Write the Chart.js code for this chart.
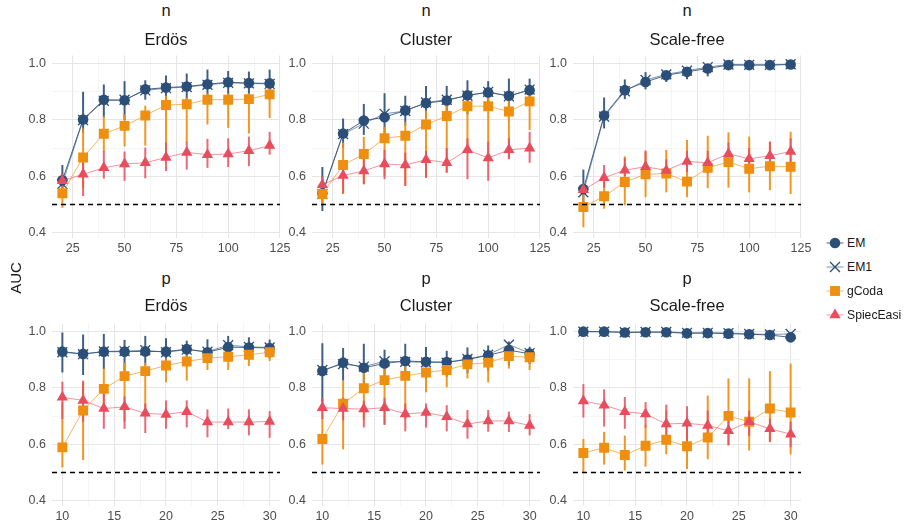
<!DOCTYPE html>
<html>
<head>
<meta charset="utf-8">
<script src="https://cdn.jsdelivr.net/npm/chart.js@4.4.1/dist/chart.umd.min.js"></script>
<style>
  body { margin: 0; background: #fff; font-family: "Liberation Sans", Arial, sans-serif; }
  #wrap { position: relative; width: 907px; height: 522px; overflow: hidden; background: #fff; }
  #wrap canvas.panel { position: absolute; }
  .lbl { position: absolute; transform: translate(-50%, -50%); white-space: nowrap; color: #1a1a1a; line-height: 1; font-size: 16.5px; }
  .ylab { position: absolute; transform: translate(-50%, -50%) rotate(-90deg); color: #1a1a1a; line-height: 1; font-size: 15px; }
  .key { position: absolute; left: 826px; height: 18px; display: flex; align-items: center; transform: translateY(-50%); }
  .key span { font-size: 12.2px; color: #1a1a1a; margin-left: 3px; }
</style>
</head>
<body>
<div id="wrap"></div>
<script>
// x values
const nSizes = [20, 30, 40, 50, 60, 70, 80, 90, 100, 110, 120];
const pSizes = [10, 12, 14, 16, 18, 20, 22, 24, 26, 28, 30];
const graphTypes = ['Erdös', 'Cluster', 'Scale-free'];
const seriesNames = ['EM', 'EM1', 'gCoda', 'SpiecEasi'];

// tick labels
const yTicks = [0.4, 0.6, 0.8, 1.0];
const yMinor = [0.5, 0.7, 0.9];
const nTicks = [25, 50, 75, 100, 125];
const nMinor = [37.5, 62.5, 87.5, 112.5];
const pTicks = [10, 15, 20, 25, 30];
const pMinor = [12.5, 17.5, 22.5, 27.5];
const baseline = 0.5;

// n / Erdös
const erdosN_EM = [0.586, 0.802, 0.872, 0.870, 0.909, 0.915, 0.919, 0.927, 0.934, 0.931, 0.930];
const erdosN_EM_lo = [0.555, 0.752, 0.810, 0.800, 0.872, 0.870, 0.872, 0.872, 0.880, 0.875, 0.872];
const erdosN_EM_hi = [0.640, 0.900, 0.926, 0.938, 0.941, 0.958, 0.965, 0.979, 0.974, 0.972, 0.979];
const erdosN_EM1 = [0.573, 0.800, 0.868, 0.872, 0.905, 0.913, 0.917, 0.925, 0.932, 0.930, 0.928];
const erdosN_gCoda = [0.540, 0.667, 0.751, 0.779, 0.816, 0.853, 0.856, 0.872, 0.872, 0.874, 0.891];
const erdosN_gCoda_lo = [0.488, 0.560, 0.688, 0.706, 0.709, 0.690, 0.720, 0.784, 0.772, 0.752, 0.807];
const erdosN_gCoda_hi = [0.580, 0.770, 0.814, 0.820, 0.851, 0.886, 0.880, 0.895, 0.895, 0.895, 0.913];
const erdosN_Spiec = [0.584, 0.607, 0.630, 0.644, 0.648, 0.667, 0.685, 0.677, 0.679, 0.691, 0.709];
const erdosN_Spiec_lo = [0.560, 0.530, 0.592, 0.584, 0.593, 0.619, 0.624, 0.630, 0.633, 0.636, 0.677];
const erdosN_Spiec_hi = [0.610, 0.665, 0.690, 0.688, 0.702, 0.720, 0.723, 0.733, 0.735, 0.741, 0.758];

// n / Cluster
const clusterN_EM = [0.540, 0.752, 0.798, 0.810, 0.834, 0.860, 0.869, 0.888, 0.898, 0.886, 0.906];
const clusterN_EM_lo = [0.477, 0.700, 0.747, 0.735, 0.780, 0.810, 0.820, 0.820, 0.851, 0.834, 0.869];
const clusterN_EM_hi = [0.633, 0.805, 0.857, 0.895, 0.886, 0.921, 0.921, 0.941, 0.938, 0.947, 0.947];
const clusterN_EM1 = [0.537, 0.750, 0.787, 0.822, 0.832, 0.862, 0.872, 0.886, 0.900, 0.884, 0.908];
const clusterN_gCoda = [0.537, 0.640, 0.679, 0.735, 0.744, 0.784, 0.814, 0.849, 0.849, 0.830, 0.866];
const clusterN_gCoda_lo = [0.500, 0.537, 0.572, 0.600, 0.566, 0.595, 0.613, 0.680, 0.680, 0.665, 0.764];
const clusterN_gCoda_hi = [0.570, 0.720, 0.740, 0.776, 0.793, 0.834, 0.860, 0.880, 0.890, 0.875, 0.905];
const clusterN_Spiec = [0.570, 0.603, 0.619, 0.644, 0.640, 0.659, 0.648, 0.694, 0.665, 0.694, 0.700];
const clusterN_Spiec_lo = [0.540, 0.540, 0.572, 0.590, 0.566, 0.595, 0.613, 0.590, 0.584, 0.660, 0.648];
const clusterN_Spiec_hi = [0.600, 0.653, 0.670, 0.694, 0.684, 0.690, 0.700, 0.735, 0.723, 0.735, 0.758];

// n / Scale-free
const scaleN_EM = [0.555, 0.816, 0.906, 0.935, 0.959, 0.971, 0.983, 0.995, 0.995, 0.995, 0.997];
const scaleN_EM_lo = [0.502, 0.770, 0.874, 0.909, 0.935, 0.945, 0.955, 0.985, 0.985, 0.985, 0.990];
const scaleN_EM_hi = [0.624, 0.880, 0.944, 0.970, 0.975, 0.985, 0.995, 1.000, 1.000, 1.000, 1.000];
const scaleN_EM1 = [0.543, 0.812, 0.902, 0.942, 0.962, 0.975, 0.988, 0.997, 0.996, 0.996, 0.998];
const scaleN_gCoda = [0.491, 0.529, 0.580, 0.607, 0.610, 0.581, 0.630, 0.651, 0.627, 0.636, 0.634];
const scaleN_gCoda_lo = [0.419, 0.485, 0.497, 0.526, 0.543, 0.526, 0.558, 0.560, 0.543, 0.551, 0.537];
const scaleN_gCoda_hi = [0.557, 0.580, 0.671, 0.688, 0.694, 0.729, 0.744, 0.756, 0.741, 0.723, 0.758];
const scaleN_Spiec = [0.552, 0.595, 0.622, 0.634, 0.621, 0.653, 0.648, 0.680, 0.662, 0.673, 0.688];
const scaleN_Spiec_lo = [0.540, 0.560, 0.600, 0.600, 0.605, 0.615, 0.610, 0.645, 0.635, 0.645, 0.650];
const scaleN_Spiec_hi = [0.570, 0.640, 0.665, 0.692, 0.660, 0.690, 0.690, 0.720, 0.700, 0.723, 0.735];

// p / Erdös
const erdosP_EM = [0.929, 0.921, 0.929, 0.929, 0.930, 0.929, 0.938, 0.927, 0.945, 0.944, 0.942];
const erdosP_EM_lo = [0.855, 0.846, 0.867, 0.860, 0.880, 0.890, 0.907, 0.895, 0.910, 0.910, 0.905];
const erdosP_EM_hi = [0.997, 0.990, 0.992, 0.971, 0.985, 0.977, 0.968, 0.973, 0.985, 0.980, 0.972];
const erdosP_EM1 = [0.927, 0.920, 0.930, 0.931, 0.934, 0.927, 0.936, 0.929, 0.952, 0.946, 0.944];
const erdosP_gCoda = [0.589, 0.720, 0.797, 0.842, 0.860, 0.880, 0.894, 0.906, 0.911, 0.918, 0.927];
const erdosP_gCoda_lo = [0.518, 0.544, 0.727, 0.680, 0.700, 0.820, 0.826, 0.864, 0.864, 0.878, 0.896];
const erdosP_gCoda_hi = [0.750, 0.820, 0.869, 0.890, 0.890, 0.905, 0.915, 0.925, 0.930, 0.935, 0.950];
const erdosP_Spiec = [0.767, 0.756, 0.727, 0.733, 0.710, 0.706, 0.716, 0.679, 0.679, 0.679, 0.681];
const erdosP_Spiec_lo = [0.690, 0.680, 0.655, 0.655, 0.640, 0.655, 0.660, 0.625, 0.654, 0.632, 0.623];
const erdosP_Spiec_hi = [0.822, 0.826, 0.780, 0.770, 0.745, 0.756, 0.756, 0.724, 0.727, 0.724, 0.718];

// p / Cluster
const clusterP_EM = [0.860, 0.890, 0.872, 0.887, 0.896, 0.893, 0.892, 0.901, 0.916, 0.934, 0.922];
const clusterP_EM_lo = [0.750, 0.826, 0.800, 0.840, 0.840, 0.832, 0.840, 0.852, 0.860, 0.880, 0.885];
const clusterP_EM_hi = [0.959, 0.942, 0.957, 0.936, 0.957, 0.946, 0.932, 0.944, 0.951, 0.965, 0.946];
const clusterP_EM1 = [0.864, 0.885, 0.876, 0.895, 0.893, 0.891, 0.890, 0.903, 0.918, 0.954, 0.924];
const clusterP_gCoda = [0.619, 0.744, 0.799, 0.828, 0.843, 0.855, 0.864, 0.884, 0.890, 0.913, 0.909];
const clusterP_gCoda_lo = [0.528, 0.582, 0.687, 0.670, 0.690, 0.785, 0.803, 0.834, 0.820, 0.869, 0.864];
const clusterP_gCoda_hi = [0.750, 0.826, 0.872, 0.880, 0.890, 0.890, 0.900, 0.910, 0.910, 0.930, 0.925];
const clusterP_Spiec = [0.730, 0.727, 0.725, 0.730, 0.708, 0.713, 0.698, 0.672, 0.683, 0.683, 0.667];
const clusterP_Spiec_lo = [0.690, 0.685, 0.660, 0.669, 0.646, 0.660, 0.646, 0.620, 0.645, 0.644, 0.632];
const clusterP_Spiec_hi = [0.765, 0.765, 0.755, 0.765, 0.745, 0.745, 0.739, 0.722, 0.722, 0.716, 0.707];

// p / Scale-free
const scaleP_EM = [1.000, 1.000, 0.997, 0.998, 0.998, 0.994, 0.995, 0.993, 0.991, 0.988, 0.980];
const scaleP_EM_lo = [0.995, 0.994, 0.990, 0.990, 0.990, 0.978, 0.985, 0.982, 0.982, 0.978, 0.962];
const scaleP_EM_hi = [1.000, 1.000, 1.000, 1.000, 1.000, 1.000, 1.000, 1.000, 0.998, 0.996, 0.997];
const scaleP_EM1 = [1.000, 1.000, 0.998, 0.999, 0.999, 0.996, 0.996, 0.995, 0.992, 0.990, 0.992];
const scaleP_gCoda = [0.569, 0.588, 0.562, 0.595, 0.616, 0.593, 0.624, 0.701, 0.680, 0.727, 0.713];
const scaleP_gCoda_lo = [0.498, 0.528, 0.507, 0.521, 0.565, 0.512, 0.547, 0.596, 0.578, 0.608, 0.564];
const scaleP_gCoda_hi = [0.619, 0.644, 0.631, 0.669, 0.720, 0.690, 0.773, 0.834, 0.834, 0.860, 0.887];
const scaleP_Spiec = [0.754, 0.739, 0.716, 0.708, 0.672, 0.675, 0.667, 0.648, 0.680, 0.655, 0.636];
const scaleP_Spiec_lo = [0.695, 0.663, 0.655, 0.660, 0.623, 0.611, 0.620, 0.597, 0.630, 0.609, 0.590];
const scaleP_Spiec_hi = [0.814, 0.795, 0.768, 0.750, 0.741, 0.735, 0.720, 0.690, 0.720, 0.692, 0.680];

// look of each series
const STYLES = {
  EM:        { color: '#2C4F78', line: 'rgba(44,79,120,0.85)', bar: 'rgba(44,79,120,0.9)', point: 'circle', radius: 5.3, order: 4 },
  EM1:       { color: '#2C4F78', line: 'rgba(44,79,120,0.6)', bar: null, point: 'crossRot', radius: 7, order: 3 },
  gCoda:     { color: '#EF8F10', line: 'rgba(239,143,16,0.65)', bar: 'rgba(239,143,16,0.92)', point: 'rect', radius: 7, order: 2 },
  SpiecEasi: { color: '#E84D5D', line: 'rgba(232,77,93,0.6)', bar: 'rgba(232,77,93,0.85)', point: 'triangle', radius: 6.5, order: 1 },
};

const PANEL_LEFT = [52, 312, 573];
const ROW_TOP = [52, 320];
const PLOT_W = 228, PLOT_H = 186, Y_AXIS_W = 40, X_AXIS_H = 22, PAD_TOP = 10, PAD_RIGHT = 14;

const panels = [
  { row: 0, col: 0, strip: 'n', x: nSizes, xMin: 15, xMax: 125, major: nTicks, minor: nMinor,
    EM: [erdosN_EM, erdosN_EM_lo, erdosN_EM_hi], EM1: [erdosN_EM1], gCoda: [erdosN_gCoda, erdosN_gCoda_lo, erdosN_gCoda_hi], SpiecEasi: [erdosN_Spiec, erdosN_Spiec_lo, erdosN_Spiec_hi] },
  { row: 0, col: 1, strip: 'n', x: nSizes, xMin: 15, xMax: 125, major: nTicks, minor: nMinor,
    EM: [clusterN_EM, clusterN_EM_lo, clusterN_EM_hi], EM1: [clusterN_EM1], gCoda: [clusterN_gCoda, clusterN_gCoda_lo, clusterN_gCoda_hi], SpiecEasi: [clusterN_Spiec, clusterN_Spiec_lo, clusterN_Spiec_hi] },
  { row: 0, col: 2, strip: 'n', x: nSizes, xMin: 15, xMax: 125, major: nTicks, minor: nMinor,
    EM: [scaleN_EM, scaleN_EM_lo, scaleN_EM_hi], EM1: [scaleN_EM1], gCoda: [scaleN_gCoda, scaleN_gCoda_lo, scaleN_gCoda_hi], SpiecEasi: [scaleN_Spiec, scaleN_Spiec_lo, scaleN_Spiec_hi] },
  { row: 1, col: 0, strip: 'p', x: pSizes, xMin: 9, xMax: 31, major: pTicks, minor: pMinor,
    EM: [erdosP_EM, erdosP_EM_lo, erdosP_EM_hi], EM1: [erdosP_EM1], gCoda: [erdosP_gCoda, erdosP_gCoda_lo, erdosP_gCoda_hi], SpiecEasi: [erdosP_Spiec, erdosP_Spiec_lo, erdosP_Spiec_hi] },
  { row: 1, col: 1, strip: 'p', x: pSizes, xMin: 9, xMax: 31, major: pTicks, minor: pMinor,
    EM: [clusterP_EM, clusterP_EM_lo, clusterP_EM_hi], EM1: [clusterP_EM1], gCoda: [clusterP_gCoda, clusterP_gCoda_lo, clusterP_gCoda_hi], SpiecEasi: [clusterP_Spiec, clusterP_Spiec_lo, clusterP_Spiec_hi] },
  { row: 1, col: 2, strip: 'p', x: pSizes, xMin: 9, xMax: 31, major: pTicks, minor: pMinor,
    EM: [scaleP_EM, scaleP_EM_lo, scaleP_EM_hi], EM1: [scaleP_EM1], gCoda: [scaleP_gCoda, scaleP_gCoda_lo, scaleP_gCoda_hi], SpiecEasi: [scaleP_Spiec, scaleP_Spiec_lo, scaleP_Spiec_hi] },
];

// vertical error bars, drawn under the points
const errorBars = {
  id: 'errorBars',
  beforeDatasetsDraw(chart) {
    const { ctx, scales: { x, y } } = chart;
    chart.data.datasets.forEach(ds => {
      if (!ds.lo) return;
      ctx.save();
      ctx.strokeStyle = ds.barColor;
      ctx.lineWidth = 2;
      ds.data.forEach((pt, i) => {
        const px = x.getPixelForValue(pt.x);
        ctx.beginPath();
        ctx.moveTo(px, y.getPixelForValue(ds.lo[i]));
        ctx.lineTo(px, y.getPixelForValue(ds.hi[i]));
        ctx.stroke();
      });
      ctx.restore();
    });
  }
};

const wrap = document.getElementById('wrap');
const TICK_FONT = { family: '"Liberation Sans", Arial, sans-serif', size: 12.5 };

function addLabel(text, cx, cy, cls) {
  const d = document.createElement('div');
  d.className = cls || 'lbl';
  d.textContent = text;
  d.style.left = cx + 'px';
  d.style.top = cy + 'px';
  wrap.appendChild(d);
}

function makePanel(p) {
  const left = PANEL_LEFT[p.col], top = ROW_TOP[p.row];
  const cv = document.createElement('canvas');
  cv.className = 'panel';
  cv.width = Y_AXIS_W + PLOT_W + PAD_RIGHT;
  cv.height = PAD_TOP + PLOT_H + X_AXIS_H;
  cv.style.left = (left - Y_AXIS_W) + 'px';
  cv.style.top = (top - PAD_TOP) + 'px';
  wrap.appendChild(cv);

  const datasets = seriesNames.map(name => {
    const st = STYLES[name];
    const [vals, lo, hi] = p[name];
    return {
      label: name,
      data: vals.map((v, i) => ({ x: p.x[i], y: v })),
      lo: lo, hi: hi, barColor: st.bar,
      borderColor: st.line,
      borderWidth: 1,
      pointStyle: st.point,
      pointRadius: st.radius,
      pointBackgroundColor: st.color,
      pointBorderColor: st.color,
      pointBorderWidth: st.point === 'crossRot' ? 1.3 : 0,
      order: st.order,
    };
  });
  datasets.push({
    label: 'baseline',
    data: [{ x: p.xMin, y: baseline }, { x: p.xMax, y: baseline }],
    borderColor: '#000',
    borderWidth: 1.5,
    borderDash: [5, 4],
    pointRadius: 0,
    order: 0,
  });

  const xGrid = p.major.concat(p.minor);
  const yGrid = yTicks.concat(yMinor);

  new Chart(cv, {
    type: 'line',
    data: { datasets },
    options: {
      responsive: false,
      animation: false,
      events: [],
      devicePixelRatio: 1,
      layout: { padding: { top: PAD_TOP, right: PAD_RIGHT, bottom: 0, left: 0 } },
      plugins: { legend: { display: false }, tooltip: { enabled: false } },
      scales: {
        x: {
          type: 'linear', min: p.xMin, max: p.xMax, bounds: 'data',
          afterFit: s => { s.height = X_AXIS_H; },
          afterBuildTicks: s => { s.ticks = xGrid.map(v => ({ value: v })); },
          border: { display: false },
          grid: {
            drawTicks: false,
            color: c => p.major.includes(c.tick.value) ? '#E6E6E6' : '#F2F2F2',
            lineWidth: c => p.major.includes(c.tick.value) ? 1.1 : 0.8,
          },
          ticks: {
            autoSkip: false, maxRotation: 0, padding: 3, color: '#4D4D4D', font: TICK_FONT,
            callback: v => p.major.includes(v) ? String(v) : '',
          },
        },
        y: {
          type: 'linear', min: 0.381, max: 1.029, bounds: 'data',
          afterFit: s => { s.width = Y_AXIS_W; },
          afterBuildTicks: s => { s.ticks = yGrid.slice().sort((a, b) => a - b).map(v => ({ value: v })); },
          border: { display: false },
          grid: {
            drawTicks: false,
            color: c => yTicks.some(t => Math.abs(t - c.tick.value) < 1e-6) ? '#E6E6E6' : '#F2F2F2',
            lineWidth: c => yTicks.some(t => Math.abs(t - c.tick.value) < 1e-6) ? 1.1 : 0.8,
          },
          ticks: {
            autoSkip: false, padding: 6, color: '#4D4D4D', font: TICK_FONT,
            callback: v => yTicks.some(t => Math.abs(t - v) < 1e-6) ? v.toFixed(1) : '',
          },
        },
      },
    },
    plugins: [errorBars],
  });

  const cx = left + PLOT_W / 2;
  const stripY = p.row === 0 ? 10.3 : 277.6;
  const titleY = p.row === 0 ? 38.6 : 305.3;
  addLabel(p.strip, cx, stripY);
  addLabel(graphTypes[p.col], cx, titleY);
}

panels.forEach(makePanel);

// y axis title
addLabel('AUC', 15, 277.5, 'ylab');

// legend
const legendY = [242.7, 266.7, 290.7, 315];
seriesNames.forEach((name, i) => {
  const st = STYLES[name];
  const row = document.createElement('div');
  row.className = 'key';
  row.style.top = legendY[i] + 'px';
  const kc = document.createElement('canvas');
  kc.width = 18; kc.height = 18;
  row.appendChild(kc);
  const sp = document.createElement('span');
  sp.textContent = name;
  row.appendChild(sp);
  wrap.appendChild(row);

  const ctx = kc.getContext('2d');
  ctx.strokeStyle = st.line;
  ctx.lineWidth = 1;
  ctx.beginPath(); ctx.moveTo(0.5, 9); ctx.lineTo(17.5, 9); ctx.stroke();
  const opts = { pointStyle: st.point, radius: st.radius, rotation: 0, borderWidth: st.point === 'crossRot' ? 1.3 : 0 };
  ctx.fillStyle = st.color;
  ctx.strokeStyle = st.color;
  ctx.lineWidth = opts.borderWidth;
  if (Chart.helpers && Chart.helpers.drawPoint) {
    Chart.helpers.drawPoint(ctx, opts, 9, 9);
  } else {
    ctx.beginPath(); ctx.arc(9, 9, 5, 0, Math.PI * 2); ctx.fill();
  }
});
</script>
</body>
</html>
